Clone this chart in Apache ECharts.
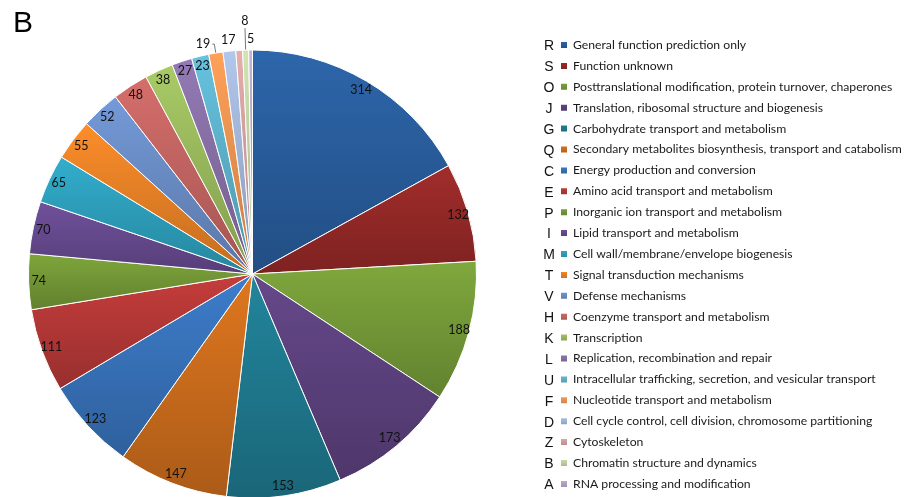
<!DOCTYPE html>
<html><head><meta charset="utf-8">
<script src="https://cdn.jsdelivr.net/npm/echarts@6/dist/echarts.min.js"></script>
<style>html,body{margin:0;padding:0;background:#fff}#c{width:904px;height:497px}</style>
</head><body><div id="c"></div>
<script>
const codes = ['R','S','O','J','G','Q','C','E','P','I','M','T','V','H','K','L','U','F','D','Z','B','A'];
const categories = [
  'General function prediction only',
  'Function unknown',
  'Posttranslational modification, protein turnover, chaperones',
  'Translation, ribosomal structure and biogenesis',
  'Carbohydrate transport and metabolism',
  'Secondary metabolites biosynthesis, transport and catabolism',
  'Energy production and conversion',
  'Amino acid transport and metabolism',
  'Inorganic ion transport and metabolism',
  'Lipid transport and metabolism',
  'Cell wall/membrane/envelope biogenesis',
  'Signal transduction mechanisms',
  'Defense mechanisms',
  'Coenzyme transport and metabolism',
  'Transcription',
  'Replication, recombination and repair',
  'Intracellular trafficking, secretion, and vesicular transport',
  'Nucleotide transport and metabolism',
  'Cell cycle control, cell division, chromosome partitioning',
  'Cytoskeleton',
  'Chromatin structure and dynamics',
  'RNA processing and modification'
];
const counts = [314,132,188,173,153,147,123,111,74,70,65,55,52,48,38,27,23,19,17,9,8,5];
const sliceColors = ['#2B62A4','#9C2B29','#7AA23B','#614585','#218096','#D6721E','#3B78C3','#BD3B39',
  '#79A039','#6C4E96','#30A7C5','#F38828','#7094D0','#CD6A67','#A2C362','#8E75AE','#62BBD6',
  '#F99B56','#AABFE3','#DDA7A6','#C9DCAB','#BCADD0'];
const outsideCodes = ['D','Z','A'];
const leaderCodes = ['F','B'];

function shade(hex, f){
  const n = parseInt(hex.slice(1),16);
  const r = Math.min(255,Math.round(((n>>16)&255)*f)), g = Math.min(255,Math.round(((n>>8)&255)*f)), b = Math.min(255,Math.round((n&255)*f));
  return 'rgb('+r+','+g+','+b+')';
}
const CENTER = [252.5, 274];
const R = 224;
const labelFont = {fontFamily: 'Lato', fontSize: 12.5, color: '#111', formatter: '{c}'};

const mainData = categories.map((name, i) => ({
  name: name, value: counts[i],
  itemStyle: {color: {type:'linear', x:0, y:0, x2:0, y2:1,
    colorStops:[{offset:0, color: shade(sliceColors[i],1.04)},{offset:1, color: shade(sliceColors[i],0.8)}]}}
}));
const innerLabelData = categories.map((name, i) => ({
  name: name, value: counts[i],
  label: {show: outsideCodes.indexOf(codes[i]) < 0 && leaderCodes.indexOf(codes[i]) < 0}
}));
const outerLabelData = categories.map((name, i) => ({
  name: name, value: counts[i],
  label: {show: outsideCodes.indexOf(codes[i]) >= 0}
}));
const leaderData = categories.map((name, i) => {
  const on = leaderCodes.indexOf(codes[i]) >= 0;
  return {
    name: name, value: counts[i],
    label: {show: on},
    labelLine: {show: on, length: codes[i] === 'B' ? 22 : 9, length2: codes[i] === 'B' ? 0 : 2}
  };
});
const idxB = codes.indexOf('B');

const ghost = {color: 'rgba(0,0,0,0)', borderWidth: 0};
const chart = echarts.init(document.getElementById('c'), null, {renderer: 'canvas'});
chart.setOption({
  animation: false,
  backgroundColor: '#fff',
  title: [
    {text: 'B', left: 8, top: 4, textStyle: {fontFamily: 'Liberation Sans', fontSize: 30, fontWeight: 'normal', color: '#000'}},
    {text: codes.join('\n'), left: 544, top: 31, textAlign: 'center',
      textStyle: {fontFamily: 'Liberation Sans', fontSize: 14, fontWeight: 'normal', color: '#111', lineHeight: 20.9}}
  ],
  legend: {
    orient: 'vertical', left: 559, top: 38, padding: 0,
    icon: 'rect', itemWidth: 8, itemHeight: 8, itemGap: 6.9,
    selectedMode: false,
    textStyle: {fontFamily: 'Lato', fontSize: 12.2, color: '#1a1a1a', lineHeight: 14},
    data: categories
  },
  series: [
    {type: 'pie', center: CENTER, radius: R, startAngle: 90, clockwise: true, silent: true,
      avoidLabelOverlap: false,
      itemStyle: {borderColor: '#fff', borderWidth: 1},
      label: {show: false}, labelLine: {show: false}, emphasis: {disabled: true},
      data: mainData},
    {type: 'pie', center: CENTER, radius: [198, 224], startAngle: 90, clockwise: true, silent: true,
      avoidLabelOverlap: false, itemStyle: ghost, emphasis: {disabled: true},
      label: Object.assign({position: 'inside'}, labelFont), labelLine: {show: false},
      data: innerLabelData},
    {type: 'pie', center: CENTER, radius: [222, 242], startAngle: 90, clockwise: true, silent: true,
      avoidLabelOverlap: false, itemStyle: ghost, emphasis: {disabled: true},
      label: Object.assign({position: 'inside'}, labelFont), labelLine: {show: false},
      data: outerLabelData},
    {type: 'pie', center: CENTER, radius: R, startAngle: 90, clockwise: true, silent: true,
      avoidLabelOverlap: false, itemStyle: ghost, emphasis: {disabled: true},
      label: Object.assign({position: 'outside', distanceToLabelLine: 2}, labelFont),
      labelLine: {lineStyle: {color: '#777', width: 1}},
      labelLayout: function (p) {
        if (p.dataIndex === idxB && p.labelLinePoints) {
          const pts = p.labelLinePoints.map(q => [q[0], q[1]]);
          return {x: pts[pts.length-1][0], y: pts[pts.length-1][1] - 1, align: 'center', verticalAlign: 'bottom', labelLinePoints: pts};
        }
      },
      data: leaderData}
  ]
});
</script></body></html>
